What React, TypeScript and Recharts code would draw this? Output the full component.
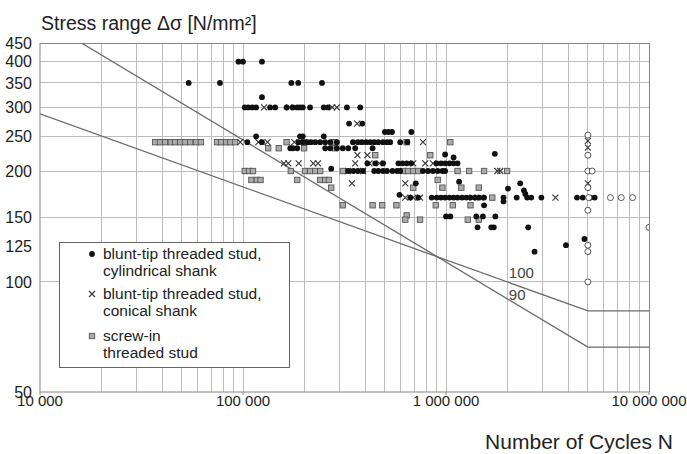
import { ScatterChart, Scatter, XAxis, YAxis, ReferenceLine, ReferenceDot } from 'recharts';

const FONT = '"Liberation Sans", Arial, Helvetica, sans-serif';
const GRID = '#bdbdbd';
const FRAME = '#858585';
const CURVE = '#6a6a6a';
const TEXT = '#222';

// axis ticks and grid
const decadeTicks = [10000, 100000, 1000000, 10000000];
const gridN = [
  20000, 30000, 40000, 50000, 60000, 70000, 80000, 90000, 100000,
  200000, 300000, 400000, 500000, 600000, 700000, 800000, 900000, 1000000,
  2000000, 3000000, 4000000, 5000000, 6000000, 7000000, 8000000, 9000000,
];
const stressTicks = [50, 100, 125, 150, 200, 250, 300, 350, 400, 450];
const stressGrid = [100, 150, 200, 250, 300, 350, 400];
const nDomain = [10000, 10000000];
const stressDomain = [50, 450];

// S-N curves (detail categories 100 and 90), [N, stress]
const curve100: [number, number][] = [[10000, 288], [5000000, 83.3], [10000000, 83.3]];
const curve90: [number, number][] = [[16000, 450], [5000000, 66.3], [10000000, 66.3]];

// test results, [N, stress range]
const cylindricalShank: [number, number][] = [
  [95000, 400], [100000, 400], [124000, 400],
  [54000, 350], [77000, 350], [173000, 350], [187000, 350], [245000, 350],
  [124000, 320],
  [102000, 300], [106000, 300], [111000, 300], [116000, 300], [136000, 300], [144000, 300], [164000, 300],
  [176000, 300], [185000, 300], [191000, 300], [197000, 300], [214000, 300], [250000, 300], [262000, 300],
  [325000, 300], [378000, 300],
  [333000, 271], [387000, 271],
  [500000, 257], [520000, 257], [542000, 257], [675000, 257],
  [116000, 250], [191000, 250], [197000, 250], [250000, 250],
  [105000, 241], [124000, 241], [188000, 241], [197000, 241], [207000, 241], [216000, 241], [227000, 241],
  [240000, 241], [254000, 241], [269000, 241], [290000, 241], [348000, 241], [368000, 241], [385000, 241],
  [404000, 241], [423000, 241], [443000, 241], [464000, 241], [490000, 241], [512000, 241], [531000, 241],
  [595000, 241], [645000, 241],
  [171000, 232], [176000, 232], [185000, 232], [254000, 232], [269000, 232], [290000, 232], [310000, 232],
  [330000, 232], [357000, 232], [435000, 232],
  [990000, 223], [1740000, 224], [1090000, 219],
  [272000, 204],
  [410000, 211], [448000, 211], [490000, 211], [583000, 211], [611000, 211], [641000, 211], [675000, 211],
  [900000, 211], [945000, 211], [990000, 211], [1040000, 211], [1090000, 211], [1140000, 211],
  [330000, 201], [350000, 201], [368000, 201], [390000, 201], [443000, 201], [464000, 201], [490000, 201],
  [512000, 201], [545000, 201], [575000, 201], [595000, 201], [770000, 201], [815000, 201], [862000, 201],
  [910000, 201], [960000, 201], [990000, 201],
  [710000, 186], [1160000, 188],
  [2020000, 180], [2320000, 186], [2420000, 178], [2460000, 174],
  [590000, 173],
  [667000, 170], [730000, 170], [850000, 170], [900000, 170], [945000, 170], [990000, 170], [1040000, 170],
  [1090000, 170], [1140000, 170], [1200000, 170], [1260000, 170], [1320000, 170], [1390000, 170],
  [1460000, 170], [1540000, 170], [1920000, 170], [1920000, 166], [2230000, 170], [2510000, 170],
  [2630000, 170], [2950000, 170], [4420000, 170], [4720000, 170], [5150000, 170], [5400000, 170],
  [1540000, 162],
  [1000000, 151], [1050000, 151], [1410000, 151], [1520000, 151], [1750000, 151],
  [1430000, 141], [1670000, 141], [1720000, 141], [2540000, 141],
  [4810000, 131], [3900000, 126], [2730000, 121],
];

const conicalShank: [number, number][] = [
  [127000, 300], [169000, 300], [275000, 300], [290000, 300],
  [365000, 271],
  [97000, 241], [119000, 241], [132000, 241], [179000, 241], [770000, 241],
  [366000, 222], [410000, 222],
  [159000, 211], [167000, 211], [188000, 211], [222000, 211], [234000, 211], [357000, 211], [420000, 211],
  [470000, 211], [690000, 211], [790000, 211], [862000, 211],
  [330000, 201], [390000, 201], [1790000, 201], [1850000, 201],
  [344000, 186], [630000, 186],
  [630000, 170], [690000, 170], [745000, 170], [1350000, 170], [1480000, 170], [3460000, 170],
  [5000000, 243], [5000000, 233], [5000000, 186],
];

const screwIn: [number, number][] = [
  [36900, 241], [39000, 241], [41300, 241], [44100, 241], [46300, 241], [49000, 241], [51800, 241],
  [54900, 241], [58700, 241], [62000, 241], [74500, 241], [78000, 241], [82600, 241], [86400, 241],
  [91400, 241], [164000, 241], [200000, 241], [281000, 241], [640000, 241], [1050000, 241],
  [133000, 232], [150000, 232], [200000, 232], [284000, 232],
  [448000, 222], [837000, 222],
  [102000, 201], [107000, 201], [112000, 201], [172000, 201], [202000, 201], [214000, 201], [227000, 201],
  [240000, 201], [310000, 201], [620000, 201], [650000, 201], [690000, 201], [730000, 201], [1140000, 201],
  [1300000, 201], [1540000, 201], [2000000, 201],
  [110000, 190], [117000, 190], [122000, 190], [185000, 190], [240000, 190], [254000, 190], [265000, 190],
  [910000, 190],
  [272000, 181], [690000, 181], [960000, 181], [1190000, 181], [1450000, 181],
  [1690000, 170],
  [310000, 162], [435000, 162], [485000, 162], [570000, 162], [890000, 162], [1080000, 162], [1320000, 162],
  [640000, 152], [630000, 148], [745000, 148], [1280000, 148], [1450000, 148],
];

// run-outs (open circles)
const runOuts: [number, number][] = [
  [5000000, 252], [5000000, 222], [5000000, 201], [5250000, 201], [5000000, 181], [5050000, 170],
  [5000000, 157], [5000000, 126], [5000000, 121], [5000000, 100],
  [6460000, 170], [7300000, 170], [8300000, 170], [10000000, 141],
];

const toPts = (rows: [number, number][]) => rows.map(([n, s]) => ({ n, s }));
const fmtN = (v: number) => v.toLocaleString('en-US').replace(/,/g, ' ');

function Dot(props: any) {
  return <circle cx={props.cx} cy={props.cy} r={2.9} fill="#111" />;
}
function Cross(props: any) {
  const { cx, cy } = props;
  const d = 3;
  return (
    <path d={`M${cx - d},${cy - d}L${cx + d},${cy + d}M${cx - d},${cy + d}L${cx + d},${cy - d}`}
      stroke="#333" strokeWidth={1.1} fill="none" />
  );
}
function Square(props: any) {
  return (
    <rect x={props.cx - 2.7} y={props.cy - 2.7} width={5.4} height={5.4}
      fill="#ababab" stroke="#555" strokeWidth={0.9} />
  );
}
function Ring(props: any) {
  return <circle cx={props.cx} cy={props.cy} r={3} fill="#fff" stroke="#444" strokeWidth={0.9} />;
}
const NoMark = () => <g />;

function CurveLabel({ text }: { text: string }) {
  return (props: any) => (
    <text x={props.cx} y={props.cy} dy="0.35em" fontSize={15} fill="#444" fontFamily={FONT}>{text}</text>
  );
}

const legendRow = (top: number, text: string) => (
  <div style={{ position: 'absolute', left: 43, top: top - 9, fontSize: 15.5, lineHeight: '18px', color: TEXT, whiteSpace: 'nowrap' }}>
    {text}
  </div>
);

export default function App() {
  return (
    <div style={{ position: 'absolute', left: 0, top: 0, width: 687, height: 454, background: '#fff', fontFamily: FONT }}>
      <ScatterChart width={687} height={454} margin={{ top: 43, right: 38, bottom: 32, left: 0 }}>
        <XAxis dataKey="n" type="number" scale="log" domain={nDomain} ticks={decadeTicks}
          tickFormatter={fmtN} interval={0} allowDataOverflow height={30}
          axisLine={{ stroke: FRAME }} tickLine={{ stroke: FRAME }} tickSize={3} tickMargin={0}
          tick={{ fill: TEXT, fontSize: 15, fontFamily: FONT }} />
        <YAxis dataKey="s" type="number" scale="log" domain={stressDomain} ticks={stressTicks}
          interval={0} allowDataOverflow width={40}
          axisLine={{ stroke: FRAME }} tickLine={false}
          tick={{ fill: TEXT, fontSize: 16, fontFamily: FONT }} />

        {gridN.map((v) => (
          <ReferenceLine key={'gx' + v} x={v} stroke={GRID} strokeWidth={1} ifOverflow="visible" shapeRendering="crispEdges" />
        ))}
        {stressGrid.map((v) => (
          <ReferenceLine key={'gy' + v} y={v} stroke={GRID} strokeWidth={1} ifOverflow="visible" shapeRendering="crispEdges" />
        ))}
        <ReferenceLine y={450} stroke={FRAME} strokeWidth={1} ifOverflow="visible" shapeRendering="crispEdges" />
        <ReferenceLine x={10000000} stroke={FRAME} strokeWidth={1} ifOverflow="visible" shapeRendering="crispEdges" />

        <Scatter data={toPts(curve100)} line={{ stroke: CURVE, strokeWidth: 1.3 }} lineType="joint" shape={NoMark} isAnimationActive={false} />
        <Scatter data={toPts(curve90)} line={{ stroke: CURVE, strokeWidth: 1.3 }} lineType="joint" shape={NoMark} isAnimationActive={false} />
        <Scatter data={toPts(screwIn)} shape={Square} isAnimationActive={false} />
        <Scatter data={toPts(conicalShank)} shape={Cross} isAnimationActive={false} />
        <Scatter data={toPts(cylindricalShank)} shape={Dot} isAnimationActive={false} />
        <Scatter data={toPts(runOuts)} shape={Ring} isAnimationActive={false} />
        <ReferenceDot x={2040000} y={105.7} r={0} shape={CurveLabel({ text: '100' })} />
        <ReferenceDot x={2040000} y={92} r={0} shape={CurveLabel({ text: '90' })} />
      </ScatterChart>

      <div style={{ position: 'absolute', left: 41, top: 12, fontSize: 19.5, color: TEXT, whiteSpace: 'nowrap' }}>
        Stress range Δσ [N/mm²]
      </div>
      <div style={{ position: 'absolute', right: 14, top: 430, fontSize: 21, color: TEXT, whiteSpace: 'nowrap' }}>
        Number of Cycles N
      </div>

      <div style={{ position: 'absolute', left: 59, top: 242, width: 231, height: 126, boxSizing: 'border-box', border: '1px solid #666', background: '#fff' }}>
        <svg width={231} height={126} style={{ position: 'absolute', left: -1, top: -1 }}>
          <circle cx={33} cy={12} r={2.9} fill="#111" />
          <path d="M30,49L36,55M30,55L36,49" stroke="#333" strokeWidth={1.1} />
          <rect x={30.3} y={91.3} width={5.4} height={5.4} fill="#ababab" stroke="#555" strokeWidth={0.9} />
        </svg>
        {legendRow(11, 'blunt-tip threaded stud,')}
        {legendRow(28, 'cylindrical shank')}
        {legendRow(51, 'blunt-tip threaded stud,')}
        {legendRow(68, 'conical shank')}
        {legendRow(93, 'screw-in')}
        {legendRow(110, 'threaded stud')}
      </div>
    </div>
  );
}
